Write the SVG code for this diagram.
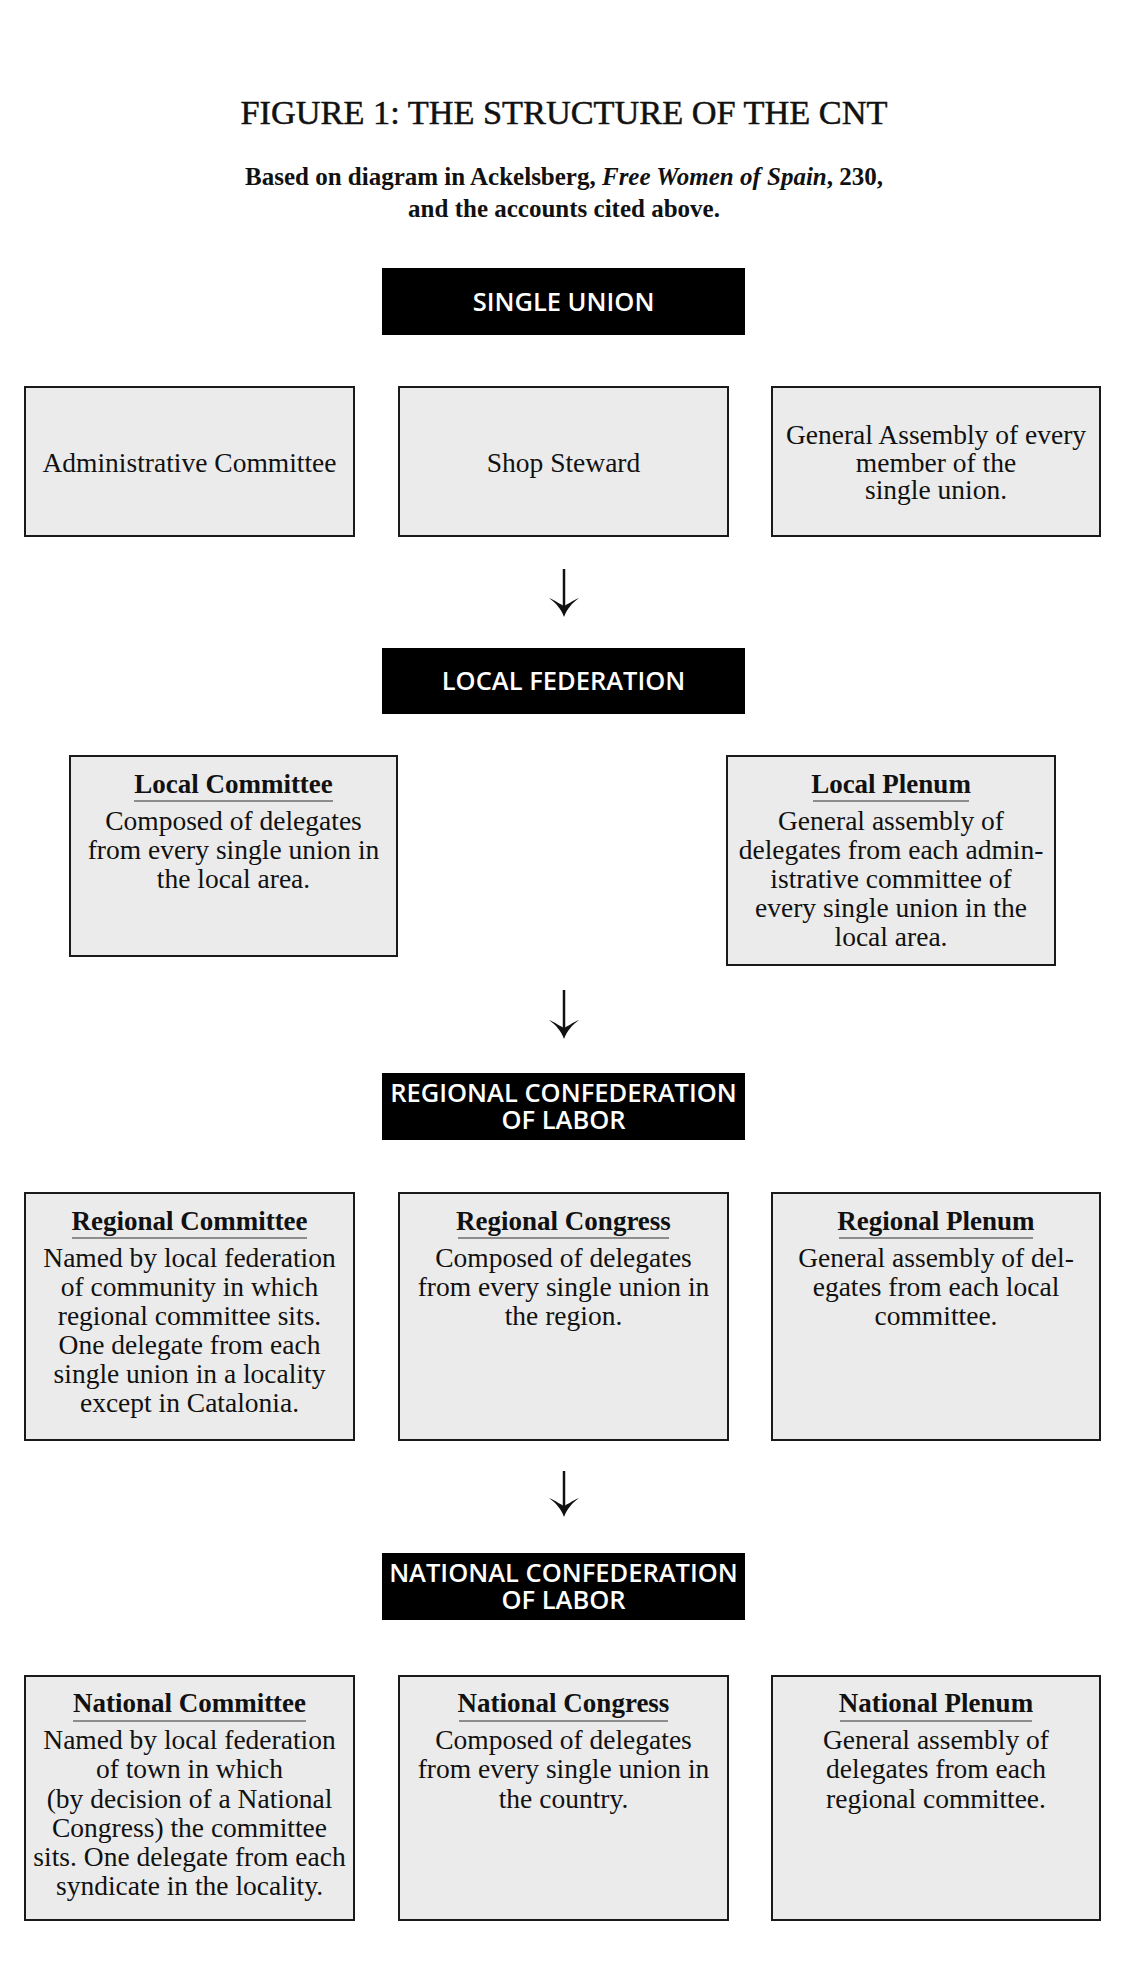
<svg xmlns="http://www.w3.org/2000/svg" width="1130" height="1983" viewBox="0 0 1130 1983">
<style>
.bg{fill:#ffffff}
.hdr rect{fill:#000000}
.hdr text{font-family:"Open Sans","DejaVu Sans",sans-serif;font-weight:600;font-size:25.5px;fill:#ffffff;text-anchor:middle}
.box rect{fill:#ebebeb;stroke:#1a1a1a;stroke-width:2}
.box text{font-family:"Liberation Serif","DejaVu Serif",serif;font-size:27.5px;fill:#111111;text-anchor:middle}
.box text.h{font-weight:bold;font-size:27px}
.box line{stroke:#6e6e6e;stroke-width:1.6}
.title{font-family:"Liberation Serif","DejaVu Serif",serif;fill:#111111;text-anchor:middle}
.conn line{stroke:#111111;stroke-width:2.5}
</style>
<defs>
<path id="ah" d="M0,0 C-3,-8 -8,-14 -15,-19 C-8,-16 -4,-13 0,-11 C4,-13 8,-16 15,-19 C8,-14 3,-8 0,0 Z" fill="#111111"/>
</defs>
<rect class="bg" x="0" y="0" width="1130" height="1983"/>
<g id="title">
<text class="title" x="564" y="124" font-size="34" stroke="#111111" stroke-width="0.5" textLength="647" lengthAdjust="spacingAndGlyphs">FIGURE 1: THE STRUCTURE OF THE CNT</text>
<text class="title" x="564" y="185" font-size="25" font-weight="bold">Based on diagram in Ackelsberg, <tspan font-style="italic">Free Women of Spain</tspan>, 230,</text>
<text class="title" x="564" y="217" font-size="25" font-weight="bold">and the accounts cited above.</text>
</g>

<g id="single-union" class="hdr">
<rect x="382" y="268" width="363" height="67"/>
<text x="563.5" y="310.5">SINGLE UNION</text>
</g>
<g id="administrative-committee" class="box">
<rect x="25" y="387" width="329" height="149"/>
<text x="189.5" y="472">Administrative Committee</text>
</g>
<g id="shop-steward" class="box">
<rect x="399" y="387" width="329" height="149"/>
<text x="563.5" y="472">Shop Steward</text>
</g>
<g id="general-assembly" class="box">
<rect x="772" y="387" width="328" height="149"/>
<text x="936" y="444">General Assembly of every</text>
<text x="936" y="471.5">member of the</text>
<text x="936" y="499">single union.</text>
</g>

<g id="local-federation" class="hdr">
<rect x="382" y="648" width="363" height="66"/>
<text x="563.5" y="690">LOCAL FEDERATION</text>
</g>
<g id="local-committee" class="box">
<rect x="70" y="756" width="327" height="200"/>
<text class="h" x="233.5" y="793">Local Committee</text>
<line x1="134" y1="801" x2="333" y2="801"/>
<text x="233.5" y="830">Composed of delegates</text>
<text x="233.5" y="859">from every single union in</text>
<text x="233.5" y="888">the local area.</text>
</g>
<g id="local-plenum" class="box">
<rect x="727" y="756" width="328" height="209"/>
<text class="h" x="891" y="793">Local Plenum</text>
<line x1="813" y1="801" x2="969" y2="801"/>
<text x="891" y="830">General assembly of</text>
<text x="891" y="859">delegates from each admin-</text>
<text x="891" y="888">istrative committee of</text>
<text x="891" y="917">every single union in the</text>
<text x="891" y="946">local area.</text>
</g>

<g id="regional-confederation" class="hdr">
<rect x="382" y="1073" width="363" height="67"/>
<text x="563.5" y="1101.5">REGIONAL CONFEDERATION</text>
<text x="563.5" y="1129">OF LABOR</text>
</g>
<g id="regional-committee" class="box">
<rect x="25" y="1193" width="329" height="247"/>
<text class="h" x="189.5" y="1230">Regional Committee</text>
<line x1="72" y1="1238" x2="307" y2="1238"/>
<text x="189.5" y="1267">Named by local federation</text>
<text x="189.5" y="1296">of community in which</text>
<text x="189.5" y="1325">regional committee sits.</text>
<text x="189.5" y="1354">One delegate from each</text>
<text x="189.5" y="1383">single union in a locality</text>
<text x="189.5" y="1412">except in Catalonia.</text>
</g>
<g id="regional-congress" class="box">
<rect x="399" y="1193" width="329" height="247"/>
<text class="h" x="563.5" y="1230">Regional Congress</text>
<line x1="458" y1="1238" x2="669" y2="1238"/>
<text x="563.5" y="1267">Composed of delegates</text>
<text x="563.5" y="1296">from every single union in</text>
<text x="563.5" y="1325">the region.</text>
</g>
<g id="regional-plenum" class="box">
<rect x="772" y="1193" width="328" height="247"/>
<text class="h" x="936" y="1230">Regional Plenum</text>
<line x1="839" y1="1238" x2="1033" y2="1238"/>
<text x="936" y="1267">General assembly of del-</text>
<text x="936" y="1296">egates from each local</text>
<text x="936" y="1325">committee.</text>
</g>

<g id="national-confederation" class="hdr">
<rect x="382" y="1553" width="363" height="67"/>
<text x="563.5" y="1581.5">NATIONAL CONFEDERATION</text>
<text x="563.5" y="1609">OF LABOR</text>
</g>
<g id="national-committee" class="box">
<rect x="25" y="1676" width="329" height="244"/>
<text class="h" x="189.5" y="1712">National Committee</text>
<line x1="73" y1="1721" x2="306" y2="1721"/>
<text x="189.5" y="1749">Named by local federation</text>
<text x="189.5" y="1778">of town in which</text>
<text x="189.5" y="1808">(by decision of a National</text>
<text x="189.5" y="1837">Congress) the committee</text>
<text x="189.5" y="1866">sits. One delegate from each</text>
<text x="189.5" y="1895">syndicate in the locality.</text>
</g>
<g id="national-congress" class="box">
<rect x="399" y="1676" width="329" height="244"/>
<text class="h" x="563.5" y="1712">National Congress</text>
<line x1="459" y1="1721" x2="668" y2="1721"/>
<text x="563.5" y="1749">Composed of delegates</text>
<text x="563.5" y="1778">from every single union in</text>
<text x="563.5" y="1808">the country.</text>
</g>
<g id="national-plenum" class="box">
<rect x="772" y="1676" width="328" height="244"/>
<text class="h" x="936" y="1712">National Plenum</text>
<line x1="840" y1="1721" x2="1032" y2="1721"/>
<text x="936" y="1749">General assembly of</text>
<text x="936" y="1778">delegates from each</text>
<text x="936" y="1808">regional committee.</text>
</g>

<g id="connectors" class="conn">
<line x1="564" y1="569" x2="564" y2="608"/>
<use href="#ah" x="564" y="617"/>
<line x1="564" y1="990" x2="564" y2="1030"/>
<use href="#ah" x="564" y="1039"/>
<line x1="564" y1="1471" x2="564" y2="1508"/>
<use href="#ah" x="564" y="1517"/>
</g>
</svg>
